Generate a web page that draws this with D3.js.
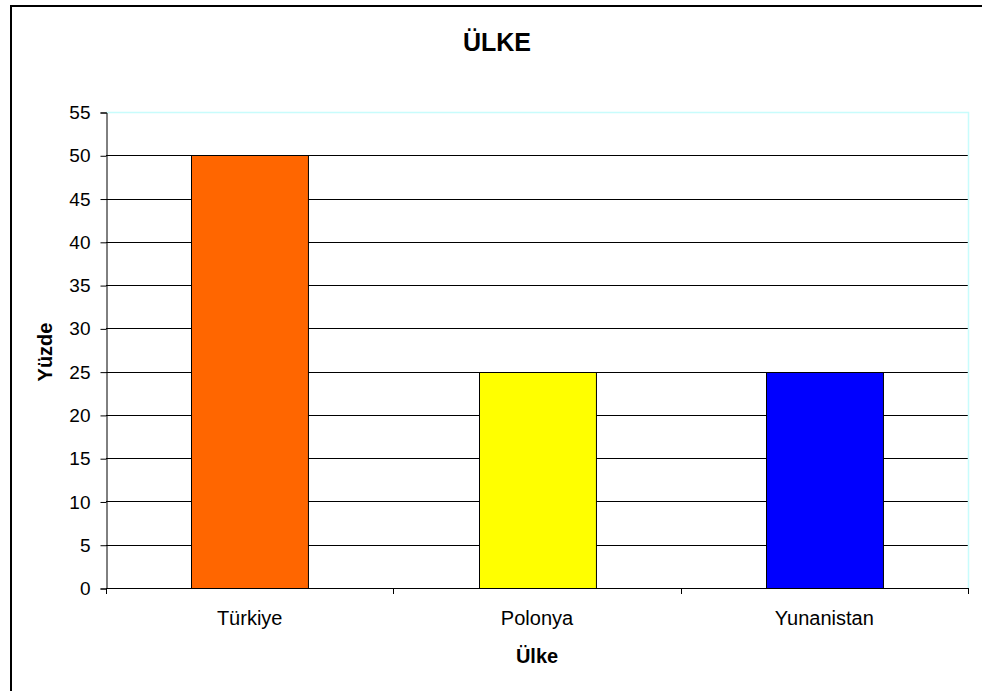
<!DOCTYPE html>
<html><head><meta charset="utf-8">
<script src="https://cdn.jsdelivr.net/npm/d3@7"></script>
<style>body{margin:0;background:#fff}svg{display:block;font-family:"Liberation Sans",Arial,sans-serif}</style>
</head><body>
<svg id="c" width="982" height="691"></svg>
<script>
const categories = ["Türkiye", "Polonya", "Yunanistan"];
const values = [50, 25, 25];
const barColors = ["#FF6600", "#FFFF00", "#0000FF"];
const yTicks = [0, 5, 10, 15, 20, 25, 30, 35, 40, 45, 50, 55];
const chartTitle = "ÜLKE";
const xTitle = "Ülke";
const yTitle = "Yüzde";

const svg = d3.select("#c");
const m = {left: 106, right: 968, top: 112, bottom: 588};

// outer frame
svg.append("rect").attr("x", 11).attr("y", 6).attr("width", 980).attr("height", 700)
  .attr("fill", "none").attr("stroke", "#000").attr("stroke-width", 2);

const x = d3.scaleBand().domain(categories).range([m.left, m.right])
  .paddingInner(0.593).paddingOuter(0.2965);
const y = d3.scaleLinear().domain([0, 55]).range([m.bottom, m.top]);

// gridlines
svg.append("g").selectAll("line").data(yTicks.filter(d => d > 0 && d < 55)).join("line")
  .attr("x1", m.left).attr("x2", m.right)
  .attr("y1", d => Math.round(y(d)) + 0.5).attr("y2", d => Math.round(y(d)) + 0.5)
  .attr("stroke", "#000").attr("stroke-width", 1);

// plot border top/right (cyan)
svg.append("path")
  .attr("d", `M${m.left},${m.top + 0.5}H${m.right + 0.5}V${m.bottom}`)
  .attr("fill", "none").attr("stroke", "#c8fcfc").attr("stroke-width", 1.5);

// bars
svg.append("g").selectAll("rect").data(values).join("rect")
  .attr("x", (d, i) => Math.round(x(categories[i])) + 0.5)
  .attr("y", d => Math.round(y(d)) + 0.5)
  .attr("width", x.bandwidth())
  .attr("height", d => Math.round(y(0)) - Math.round(y(d)))
  .attr("fill", (d, i) => barColors[i])
  .attr("stroke", "#000").attr("stroke-width", 1);

// y axis
const yAxis = d3.axisLeft(y).tickValues(yTicks).tickSize(6).tickPadding(10);
const gy = svg.append("g").attr("transform", `translate(${m.left + 0.5},0.5)`).call(yAxis);
gy.select(".domain").attr("stroke", "#000");
gy.selectAll("text").attr("font-size", 19).attr("fill", "#000")
  .attr("font-family", '"Liberation Sans",Arial,sans-serif');

// x axis
const xTickPos = [0, 1, 2, 3].map(i => m.left + i * (m.right - m.left) / 3);
const gx = svg.append("g");
gx.append("line").attr("x1", m.left).attr("x2", m.right + 1)
  .attr("y1", m.bottom + 0.5).attr("y2", m.bottom + 0.5).attr("stroke", "#000");
gx.selectAll("line.t").data(xTickPos).join("line").attr("class", "t")
  .attr("x1", d => Math.round(d) + 0.5).attr("x2", d => Math.round(d) + 0.5)
  .attr("y1", m.bottom).attr("y2", m.bottom + 6).attr("stroke", "#000");
gx.selectAll("text").data(categories).join("text")
  .attr("x", d => x(d) + x.bandwidth() / 2).attr("y", 625)
  .attr("text-anchor", "middle").attr("font-size", 20).text(d => d);

// titles
svg.append("text").attr("x", 497).attr("y", 51).attr("text-anchor", "middle")
  .attr("font-size", 25).attr("font-weight", "bold").text(chartTitle);
svg.append("text").attr("x", 537).attr("y", 663).attr("text-anchor", "middle")
  .attr("font-size", 20).attr("font-weight", "bold").text(xTitle);
svg.append("text").attr("transform", "translate(52,352) rotate(-90)").attr("text-anchor", "middle")
  .attr("font-size", 20).attr("font-weight", "bold").text(yTitle);
</script>
</body></html>
